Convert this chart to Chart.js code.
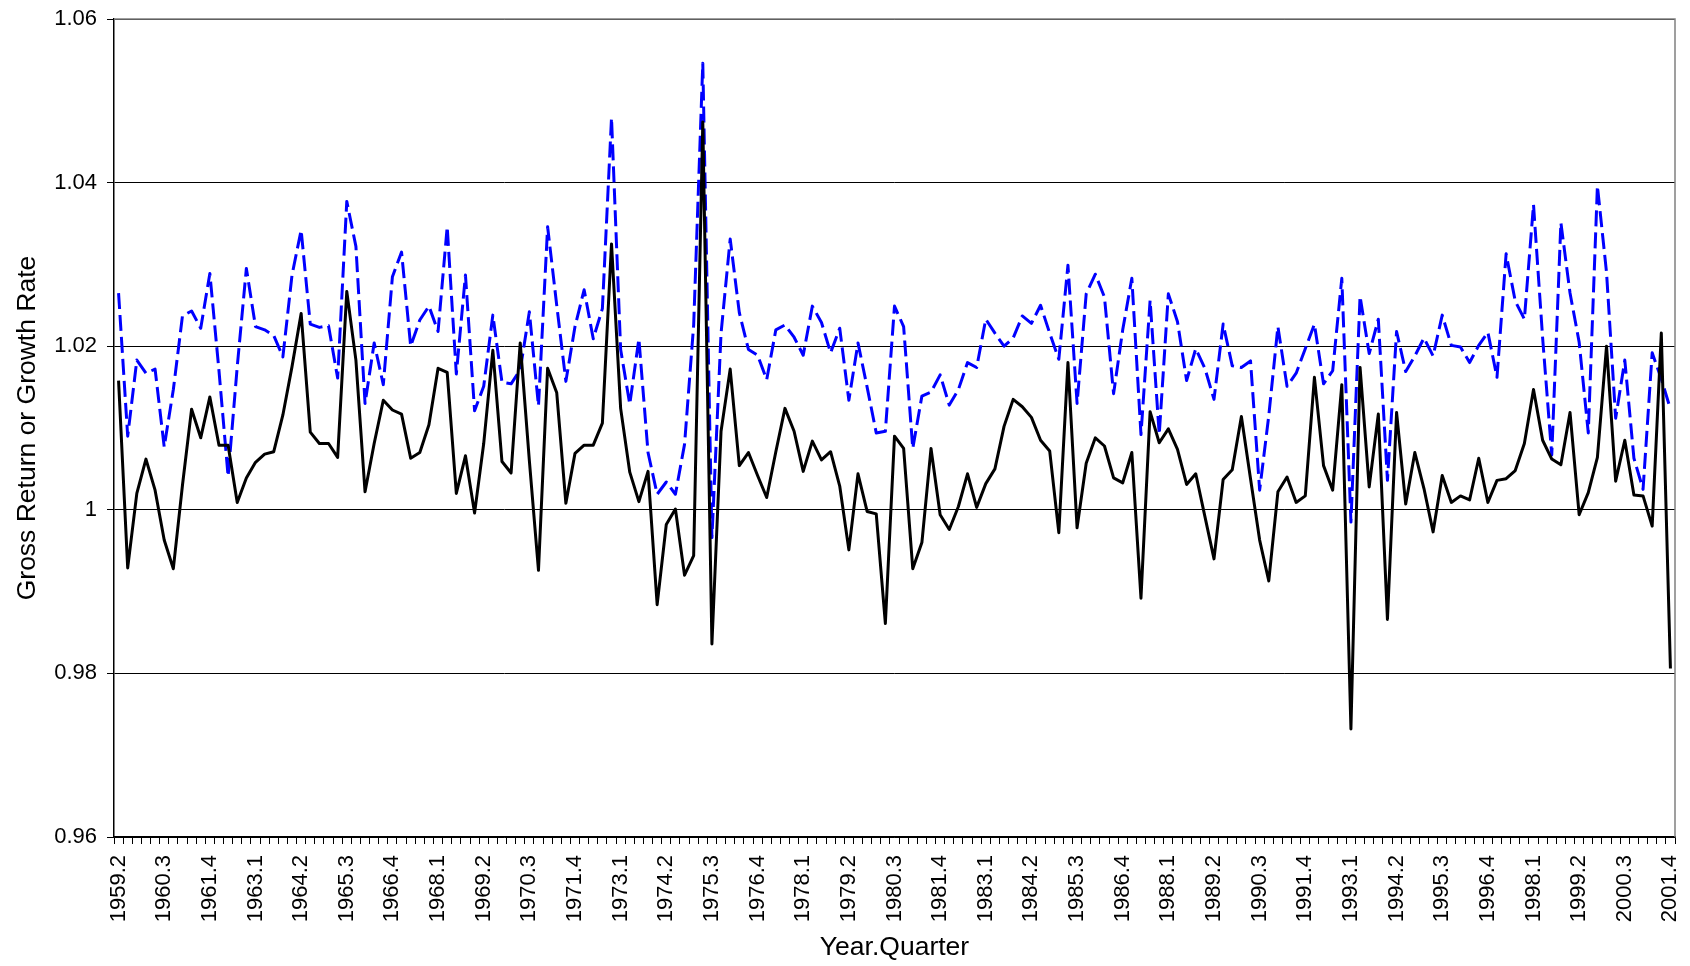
<!DOCTYPE html>
<html>
<head>
<meta charset="utf-8">
<script src="https://cdn.jsdelivr.net/npm/chart.js@4/dist/chart.umd.min.js"></script>
<style>
  html, body { margin: 0; padding: 0; background: #fff; }
  #wrap { width: 1690px; height: 966px; }
</style>
</head>
<body>
<div id="wrap"><canvas id="grafico"></canvas></div>
<script>
// quarters 1959.2 .. 2001.4, one label shown every 5 quarters
const categorias = [];
for (let a = 1959, q = 2; a < 2002; q++) {
  if (q > 4) { q = 1; a++; if (a > 2001) break; }
  categorias.push(a + '.' + q);
}

const yTicks = [0.96, 0.98, 1.00, 1.02, 1.04, 1.06];

// solid black line
const growthRate = [
  1.0158,0.9929,1.0020,1.0062,1.0024,0.9963,0.9928,1.0030,1.0123,1.0088,
  1.0138,1.0079,1.0079,1.0009,1.0039,1.0058,1.0068,1.0071,1.0116,1.0175,
  1.0240,1.0095,1.0081,1.0081,1.0064,1.0267,1.0183,1.0022,1.0081,1.0134,
  1.0122,1.0117,1.0063,1.0070,1.0104,1.0173,1.0168,1.0020,1.0066,0.9996,
  1.0081,1.0195,1.0059,1.0045,1.0204,1.0060,0.9926,1.0173,1.0143,1.0008,
  1.0069,1.0079,1.0079,1.0106,1.0325,1.0124,1.0046,1.0010,1.0047,0.9884,
  0.9982,1.0001,0.9920,0.9944,1.0474,0.9836,1.0096,1.0172,1.0054,1.0070,
  1.0042,1.0015,1.0071,1.0124,1.0096,1.0047,1.0084,1.0061,1.0071,1.0029,
  0.9951,1.0044,0.9998,0.9995,0.9861,1.0090,1.0075,0.9928,0.9960,1.0075,
  0.9994,0.9976,1.0004,1.0044,1.0003,1.0032,1.0050,1.0102,1.0135,1.0126,
  1.0113,1.0085,1.0072,0.9972,1.0180,0.9978,1.0057,1.0088,1.0078,1.0039,
  1.0033,1.0070,0.9892,1.0120,1.0082,1.0099,1.0074,1.0031,1.0044,0.9992,
  0.9940,1.0037,1.0049,1.0114,1.0038,0.9963,0.9913,1.0022,1.0040,1.0009,
  1.0017,1.0162,1.0054,1.0024,1.0153,0.9732,1.0174,1.0028,1.0117,0.9866,
  1.0119,1.0007,1.0070,1.0026,0.9973,1.0042,1.0009,1.0017,1.0012,1.0063,
  1.0009,1.0036,1.0038,1.0048,1.0081,1.0147,1.0085,1.0062,1.0055,1.0119,
  0.9994,1.0021,1.0064,1.0200,1.0035,1.0085,1.0018,1.0017,0.9980,1.0216,
  0.9806
];

// dashed blue line
const grossReturn = [
  1.0265,1.0090,1.0183,1.0167,1.0172,1.0077,1.0147,1.0237,1.0243,1.0222,
  1.0289,1.0170,1.0041,1.0175,1.0295,1.0224,1.0220,1.0213,1.0187,1.0287,
  1.0342,1.0227,1.0223,1.0225,1.0161,1.0377,1.0322,1.0130,1.0204,1.0153,
  1.0285,1.0315,1.0200,1.0232,1.0249,1.0218,1.0346,1.0166,1.0287,1.0121,
  1.0151,1.0238,1.0156,1.0154,1.0171,1.0242,1.0127,1.0346,1.0250,1.0157,
  1.0224,1.0269,1.0209,1.0246,1.0479,1.0196,1.0129,1.0209,1.0070,1.0019,
  1.0034,1.0019,1.0080,1.0226,1.0546,0.9966,1.0216,1.0331,1.0241,1.0196,
  1.0189,1.0159,1.0220,1.0226,1.0211,1.0189,1.0249,1.0229,1.0192,1.0222,
  1.0134,1.0204,1.0150,1.0094,1.0096,1.0249,1.0224,1.0075,1.0139,1.0144,
  1.0165,1.0128,1.0147,1.0180,1.0174,1.0233,1.0216,1.0200,1.0210,1.0237,
  1.0228,1.0250,1.0216,1.0184,1.0299,1.0130,1.0264,1.0288,1.0260,1.0142,
  1.0220,1.0283,1.0092,1.0256,1.0092,1.0264,1.0230,1.0158,1.0197,1.0173,
  1.0135,1.0227,1.0176,1.0174,1.0182,1.0024,1.0115,1.0224,1.0151,1.0167,
  1.0197,1.0227,1.0154,1.0170,1.0283,0.9985,1.0261,1.0191,1.0233,1.0036,
  1.0218,1.0169,1.0188,1.0210,1.0188,1.0238,1.0201,1.0199,1.0180,1.0201,
  1.0217,1.0162,1.0313,1.0255,1.0233,1.0373,1.0210,1.0067,1.0351,1.0265,
  1.0205,1.0094,1.0396,1.0290,1.0112,1.0183,1.0063,1.0025,1.0192,1.0160,
  1.0123
];

const fonte = "'Liberation Sans', Arial, sans-serif";

// gray frame on top and right like the original plot area
const moldura = {
  id: 'moldura',
  afterDraw(chart) {
    const { ctx, chartArea: a } = chart;
    ctx.save();
    ctx.strokeStyle = '#808080';
    ctx.lineWidth = 1.5;
    ctx.beginPath();
    ctx.moveTo(a.left, a.top);
    ctx.lineTo(a.right, a.top);
    ctx.lineTo(a.right, a.bottom);
    ctx.stroke();
    ctx.restore();
  }
};

new Chart(document.getElementById('grafico'), {
  type: 'line',
  data: {
    labels: categorias,
    datasets: [
      {
        data: growthRate,
        borderColor: '#000',
        borderWidth: 3,
        pointRadius: 0,
        tension: 0,
        borderJoinStyle: 'round'
      },
      {
        data: grossReturn,
        borderColor: '#0000ff',
        borderWidth: 3,
        borderDash: [16, 6],
        pointRadius: 0,
        tension: 0,
        borderJoinStyle: 'round'
      }
    ]
  },
  options: {
    responsive: true,
    maintainAspectRatio: false,
    animation: false,
    layout: { padding: { top: 19, right: 15, left: 0, bottom: 0 } },
    plugins: { legend: { display: false }, tooltip: { enabled: false } },
    scales: {
      x: {
        type: 'category',
        offset: true,
        grid: { drawOnChartArea: false, offset: true, tickLength: 7, color: '#000', lineWidth: 1 },
        border: { color: '#000', width: 1.5 },
        ticks: {
          autoSkip: false,
          minRotation: 90,
          maxRotation: 90,
          padding: 11,
          color: '#000',
          font: { family: fonte, size: 22 },
          callback: (v, i) => (i % 5 === 0 ? categorias[i] : '')
        },
        title: {
          display: true,
          text: 'Year.Quarter',
          color: '#000',
          font: { family: fonte, size: 26.5 },
          padding: { top: 0, bottom: 2 }
        },
        afterFit: s => { s.height = 129; s.paddingLeft = 0; s.paddingRight = 0; }
      },
      y: {
        min: yTicks[0],
        max: yTicks[yTicks.length - 1],
        afterBuildTicks: s => { s.ticks = yTicks.map(v => ({ value: v })); },
        grid: { color: '#000', lineWidth: 1, tickLength: 7 },
        border: { color: '#000', width: 1.5 },
        ticks: {
          padding: 10,
          color: '#000',
          font: { family: fonte, size: 22 },
          callback: v => String(+v.toFixed(2))
        },
        title: {
          display: true,
          text: 'Gross Return or Growth Rate',
          color: '#000',
          font: { family: fonte, size: 26.5 },
          padding: { top: 12, bottom: 0 }
        },
        afterFit: s => { s.width = 114; s.paddingTop = 0; s.paddingBottom = 0; }
      }
    }
  },
  plugins: [moldura]
});
</script>
</body>
</html>
